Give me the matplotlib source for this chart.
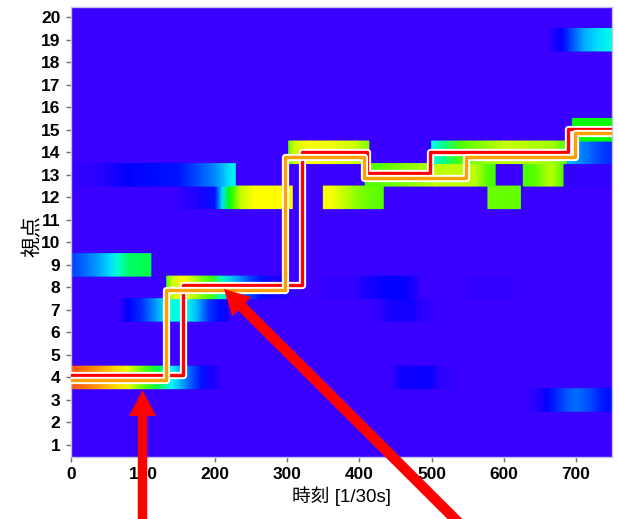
import numpy as np
import matplotlib
matplotlib.use("Agg")
import matplotlib.pyplot as plt
from matplotlib.colors import LinearSegmentedColormap
from matplotlib.patches import FancyArrow
import matplotlib.patheffects as pe

plt.rcParams['font.family'] = ['Liberation Sans', 'Noto Sans CJK JP', 'DejaVu Sans']

# viewpoint bands: row, sample times [frames], intensity (0..1)
bands = [
    (3, [635, 650, 660, 670, 680, 690, 700, 710, 720, 730, 740, 750],
        [0.01, 0.04, 0.08, 0.11, 0.14, 0.17, 0.18, 0.17, 0.15, 0.12, 0.10, 0.09]),
    (4, [0, 20, 40, 60, 80, 100, 120, 140, 160, 180, 195, 207],
        [0.90, 0.86, 0.81, 0.75, 0.67, 0.56, 0.46, 0.33, 0.20, 0.10, 0.05, 0.02]),
    (4, [445, 455, 500, 510, 532], [0.01, 0.06, 0.07, 0.02, 0.01]),
    (7, [70, 80, 100, 120, 135, 160, 175, 190, 205, 218],
        [0.03, 0.08, 0.13, 0.24, 0.35, 0.35, 0.26, 0.14, 0.09, 0.06]),
    (7, [426, 440, 475, 485, 505], [0.01, 0.05, 0.06, 0.02, 0.01]),
    (8, [133, 140, 152, 165, 180, 195, 208, 225, 245, 262, 280, 305],
        [0.55, 0.62, 0.70, 0.66, 0.58, 0.54, 0.38, 0.26, 0.16, 0.10, 0.05, 0.02]),
    (8, [348, 395, 405, 440, 470, 482], [0.015, 0.015, 0.04, 0.08, 0.07, 0.02]),
    (8, [547, 612], [0.015, 0.015]),
    (9, [0, 20, 40, 55, 65, 80, 111],
        [0.14, 0.18, 0.24, 0.30, 0.36, 0.43, 0.45]),
    (12, [150, 180, 200, 210, 220, 235, 255, 290, 307],
         [0.015, 0.05, 0.10, 0.30, 0.50, 0.62, 0.70, 0.70, 0.68]),
    (12, [350, 358, 375, 400, 433], [0.68, 0.70, 0.64, 0.58, 0.55]),
    (12, [578, 623], [0.57, 0.56]),
    (13, [0, 40, 80, 150, 175, 200, 215, 228],
         [0.01, 0.025, 0.08, 0.10, 0.15, 0.21, 0.28, 0.34]),
    (13, [408, 440, 505, 560, 575, 588], [0.55, 0.56, 0.62, 0.62, 0.56, 0.54]),
    (13, [627, 645, 665, 682], [0.54, 0.56, 0.62, 0.55]),
    (13, [690, 750], [0.015, 0.015]),
    (14, [302, 310, 330, 360, 395, 413], [0.57, 0.64, 0.70, 0.68, 0.63, 0.58]),
    (14, [500, 515, 540, 600, 670, 688], [0.34, 0.40, 0.55, 0.63, 0.60, 0.54]),
    (14, [688, 710, 730, 750], [0.26, 0.20, 0.15, 0.12]),
    (15, [695, 750], [0.50, 0.50]),
    (19, [664, 680, 690, 710, 730, 750], [0.02, 0.08, 0.13, 0.24, 0.30, 0.35]),
]

# estimated gaze paths (step functions)
red_t = [0, 156, 320, 410, 498, 689, 750]
red_v = [4.10, 8.09, 14.02, 13.06, 14.02, 15.05, 15.05]
org_t = [0, 132, 297, 407, 547, 699, 750]
org_v = [3.88, 7.87, 13.77, 12.84, 13.77, 14.85, 14.85]

xticks = [0, 100, 200, 300, 400, 500, 600, 700]
yticks = list(range(1, 21))

cmap = LinearSegmentedColormap.from_list('gaze', [
    (0.00, '#3A00FF'), (0.08, '#0000FF'), (0.20, '#0080FF'),
    (0.33, '#00FFFF'), (0.50, '#00FF00'), (0.62, '#BFFF00'),
    (0.70, '#FFFF00'), (0.85, '#FF8000'), (1.00, '#FF0000')])

fig = plt.figure(figsize=(6.18, 5.19), dpi=100)
ax = fig.add_axes([70.7 / 618, (519 - 456.7) / 519, 541.4 / 618, 449.4 / 519])
ax.set_facecolor(cmap(0.0))

for row, t, v in bands:
    tt = np.array([t, t], dtype=float)
    yy = np.array([[row - 0.5] * len(t), [row + 0.5] * len(t)])
    cc = np.array([v, v])
    ax.pcolormesh(tt, yy, cc, shading='gouraud', cmap=cmap, vmin=0, vmax=1,
                  zorder=1)

white = [pe.Stroke(linewidth=5.2, foreground='white'), pe.Normal()]
ax.plot(red_t, red_v, drawstyle='steps-post', color='#FF0000', lw=2.4,
        solid_joinstyle='round', path_effects=white, zorder=3)
ax.plot(org_t, org_v, drawstyle='steps-post', color='#FFA000', lw=2.4,
        solid_joinstyle='round', path_effects=white, zorder=4)

ax.set_xlim(0, 750)
ax.set_ylim(0.48, 20.44)
ax.set_xticks(xticks)
ax.set_yticks(yticks)
for lab in ax.get_xticklabels() + ax.get_yticklabels():
    lab.set_fontweight('bold')
ax.tick_params(axis='both', labelsize=12.5, length=3.5, width=1,
               color='#707070', pad=4)
for sp in ax.spines.values():
    sp.set_color('#C0C0E8')
    sp.set_linewidth(1)

ax.set_xlabel('時刻 [1/30s]', fontsize=13.5)
ax.xaxis.set_label_coords(0.5, -0.066)
ax.set_ylabel('視点', fontsize=15)
ax.yaxis.set_label_coords(-0.052, 0.49)

# overlay in pixel coordinates for the pointer arrows
ov = fig.add_axes([0, 0, 1, 1], zorder=10)
ov.set_xlim(0, 618)
ov.set_ylim(519, 0)
ov.axis('off')
ov.patch.set_alpha(0)
ov.add_patch(FancyArrow(142.5, 530, 0, 390 - 530, width=9.5, head_width=27,
                        head_length=26, length_includes_head=True,
                        color='#FF0000', lw=0))
ov.add_patch(FancyArrow(466, 530, 224 - 466, 289 - 530, width=10.5,
                        head_width=27, head_length=25,
                        length_includes_head=True, color='#FF0000', lw=0))

fig.savefig('out.png', dpi=100)
